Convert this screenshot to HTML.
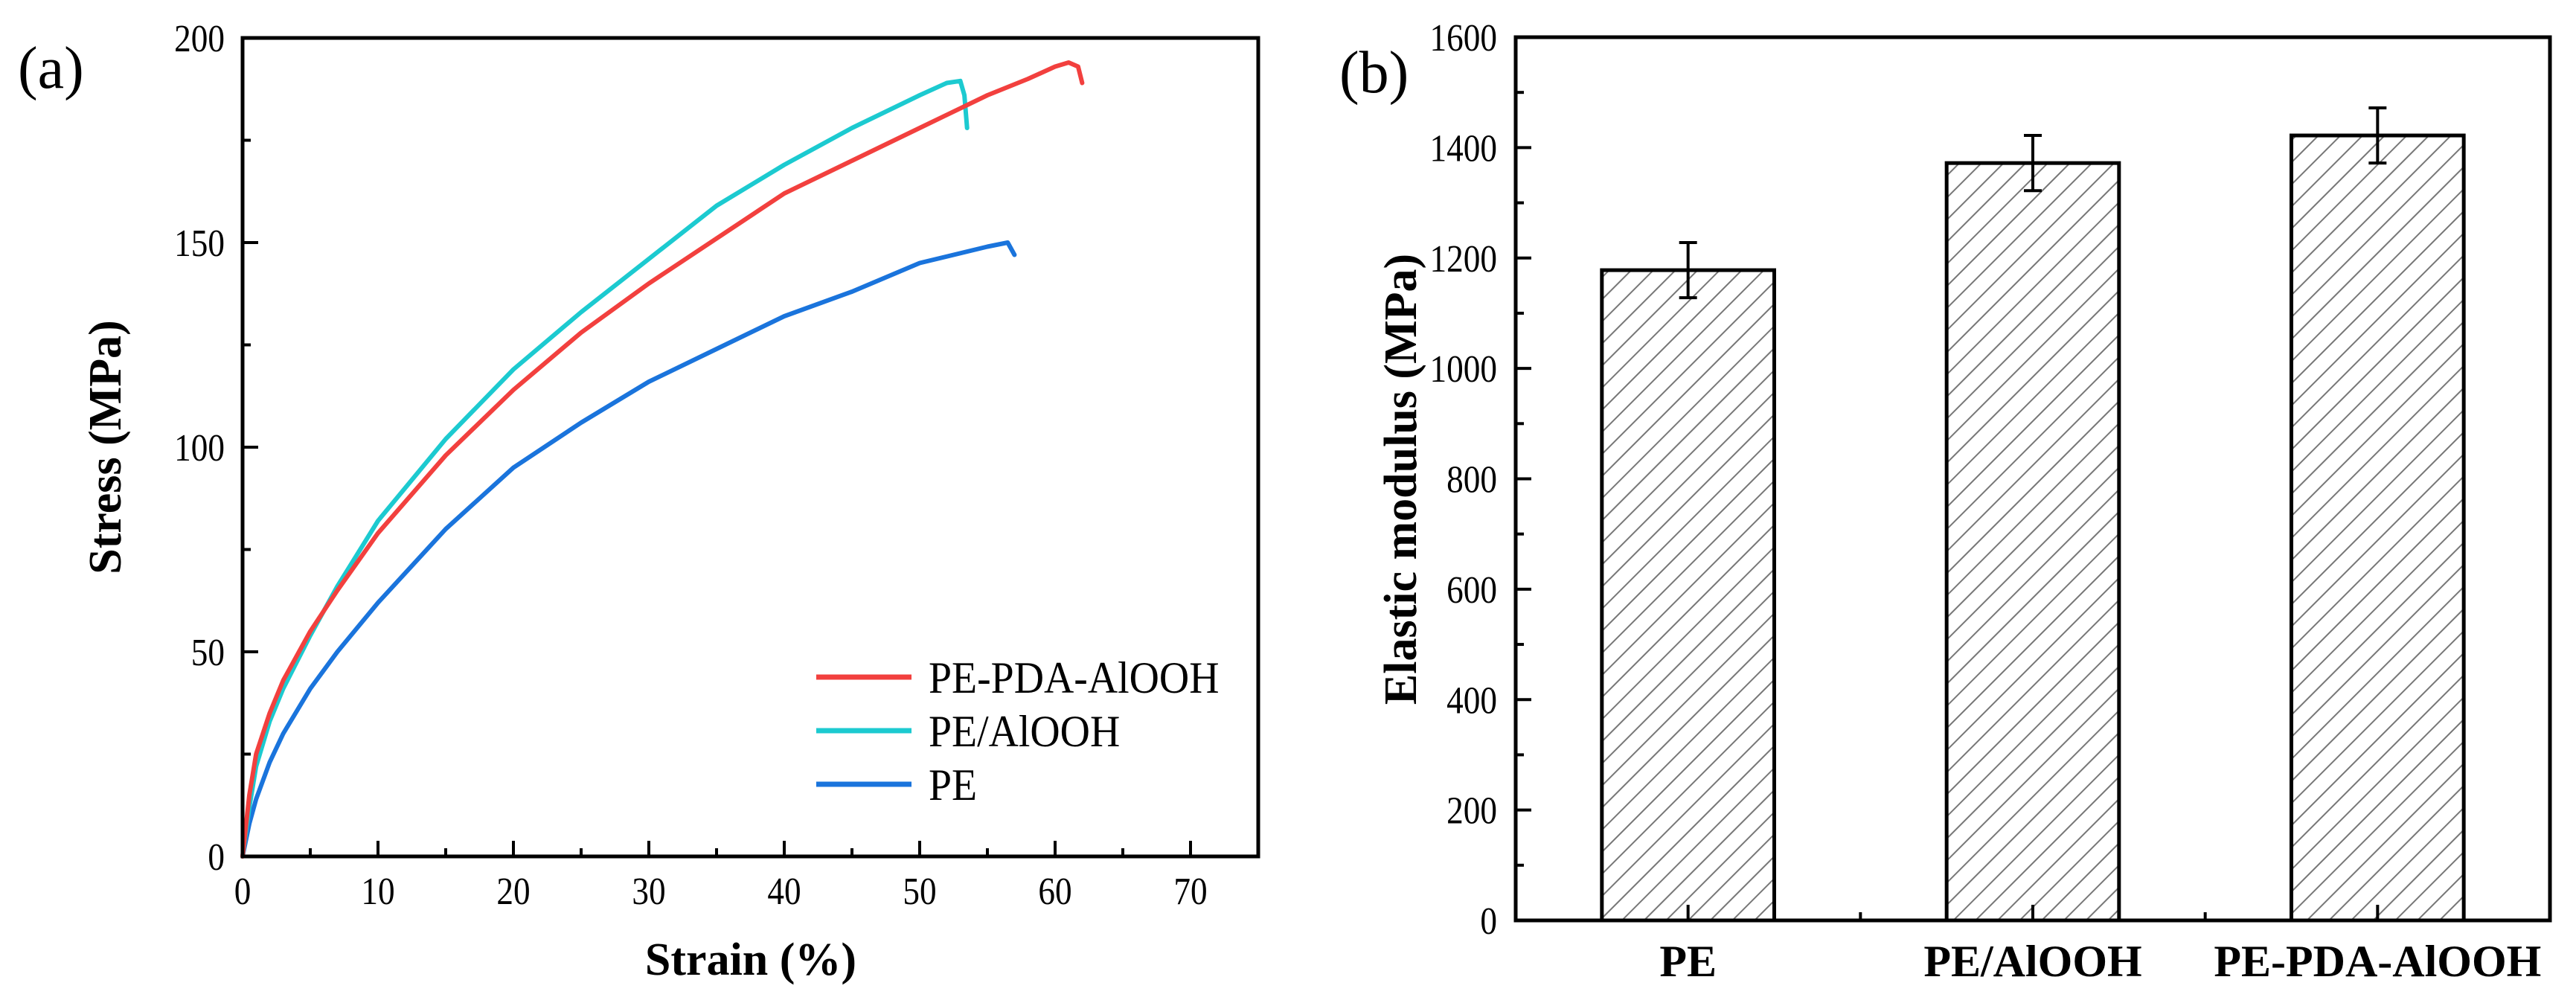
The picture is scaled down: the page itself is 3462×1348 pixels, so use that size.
<!DOCTYPE html>
<html><head><meta charset="utf-8">
<style>
html,body{margin:0;padding:0;background:#fff;}
svg{display:block;}
text{font-family:"Liberation Serif","DejaVu Serif",serif;fill:#000;}
</style></head>
<body>
<svg id="fig" width="3462" height="1348" viewBox="0 0 3462 1348" xmlns="http://www.w3.org/2000/svg">
<defs>
<pattern id="hatch" patternUnits="userSpaceOnUse" width="21" height="21" patternTransform="rotate(45)">
<rect width="21" height="21" fill="#fff"/>
<line x1="0" y1="0" x2="0" y2="21" stroke="#777" stroke-width="4"/>
</pattern>
</defs>
</svg>
<script>
// ---- Panel (a) data ----
const redX=[0,0.5,1,2,3,5,7,10,15,20,25,30,35,40,45,50,55,58,60,61,61.7,62];
const redY=[0,15,25,35,43,55,65,79,98,114,128,140,151,162,170,178,186,190,193,194,193,189];
const cyanX=[0,0.5,1,2,3,5,7,10,15,20,25,30,35,40,45,50,52,53,53.3,53.5];
const cyanY=[0,12,22,33,41,54,66,82,102,119,133,146,159,169,178,186,189,189.5,186,178];
const blueX=[0,0.5,1,2,3,5,7,10,15,20,25,30,35,40,45,50,55,56.5,57];
const blueY=[0,8,14,23,30,41,50,62,80,95,106,116,124,132,138,145,149,150,147];
const aXTicks=[0,10,20,30,40,50,60,70];
const aYTicks=[0,50,100,150,200];
const legendLabels=["PE-PDA-AlOOH","PE/AlOOH","PE"];
// ---- Panel (b) data ----
const categories=["PE","PE/AlOOH","PE-PDA-AlOOH"];
const modulus=[1178,1372,1422];
const modErr=[50,50,50];
const bYTicks=[0,200,400,600,800,1000,1200,1400,1600];

const NS="http://www.w3.org/2000/svg";
const svg=document.getElementById('fig');
function el(tag,attrs,parent){const e=document.createElementNS(NS,tag);for(const k in attrs)e.setAttribute(k,attrs[k]);(parent||svg).appendChild(e);return e;}
function stext(x,y,str,size,sx,anchor,parent){
  const t=el('text',{x:0,y:0,'font-size':size,'text-anchor':anchor,transform:'translate('+x+','+y+') scale('+sx+',1)'},parent);
  t.textContent=str;return t;
}

// Panel a axes
const aL=326,aR=1691,aT=51,aB=1151;
const ax=v=>aL+(v/75)*(aR-aL);
const ay=v=>aB-(v/200)*(aB-aT);
const gA=el('g',{});


function series(xs,ys,color,name){
  let d='';xs.forEach((x,i)=>{d+=(i?'L':'M')+ax(x).toFixed(1)+' '+ay(ys[i]).toFixed(1);});
  const p=el('path',{d:d,fill:'none',stroke:color,'stroke-width':6,'stroke-linejoin':'round','stroke-linecap':'round'},gA);
  
  
}
series(blueX,blueY,'#1a74dc','pe-curve');
series(cyanX,cyanY,'#1ccad0','pe-alooh-curve');
series(redX,redY,'#f2403e','pe-pda-alooh-curve');
el('rect',{x:aL,y:aT,width:aR-aL,height:aB-aT,fill:'none',stroke:'#000','stroke-width':5},gA);
for(let v=0;v<=75;v+=5){const maj=v%10===0;el('line',{x1:ax(v),x2:ax(v),y1:aB,y2:aB-(maj?21:11),stroke:'#000','stroke-width':4},gA);}
for(let v=0;v<=200;v+=25){const maj=v%50===0;el('line',{x1:aL,x2:aL+(maj?21:11),y1:ay(v),y2:ay(v),stroke:'#000','stroke-width':4},gA);}
aXTicks.forEach(v=>{const t=stext(ax(v),aB+64,String(v),52,0.87,'middle',gA);

});
aYTicks.forEach(v=>{const t=stext(302,ay(v)+18,String(v),52,0.87,'end',gA);

});
let t=el('text',{x:1009,y:1310,'font-size':62,'font-weight':'bold','text-anchor':'middle'},gA);t.textContent='Strain (%)';


t=el('text',{x:0,y:0,'font-size':62,'font-weight':'bold','text-anchor':'middle',transform:'translate(162,601) rotate(-90)'},gA);t.textContent='Stress (MPa)';


t=el('text',{x:24,y:118,'font-size':80},gA);t.textContent='(a)';


const legColors=['#f2403e','#1ccad0','#1a74dc'];
legendLabels.forEach((lab,i)=>{const y=910+i*72;
 const g=el('g',{},gA);
 
 
 el('line',{x1:1097,x2:1225,y1:y,y2:y,stroke:legColors[i],'stroke-width':7},g);
 stext(1248,y+21,lab,60,0.93,'start',g);});

// Panel b
const bL=2037,bR=3427,bT=50,bB=1237;
const bx=c=>bL+(c-0.5)/3*(bR-bL);
const by=v=>bB-(v/1600)*(bB-bT);
const gB=el('g',{});


categories.forEach((c,i)=>{const cx=bx(i+1),w=(bR-bL)/6;
 const r=el('rect',{x:cx-w/2,y:by(modulus[i]),width:w,height:bB-by(modulus[i]),fill:'url(#hatch)',stroke:'#000','stroke-width':5},gB);
 
 
 const eb=el('g',{stroke:'#000','stroke-width':4},gB);
 
 
 const hi=by(modulus[i]+modErr[i]),lo=by(modulus[i]-modErr[i]);
 el('line',{x1:cx,x2:cx,y1:hi,y2:lo},eb);
 el('line',{x1:cx-12,x2:cx+12,y1:hi,y2:hi},eb);
 el('line',{x1:cx-12,x2:cx+12,y1:lo,y2:lo},eb);
 const tl=el('text',{x:cx,y:1312,'font-size':60,'font-weight':'bold','text-anchor':'middle'},gB);tl.textContent=c;
 
 
});
el('rect',{x:bL,y:bT,width:bR-bL,height:bB-bT,fill:'none',stroke:'#000','stroke-width':5},gB);
for(let c=1;c<=3;c+=0.5){const maj=Number.isInteger(c);el('line',{x1:bx(c),x2:bx(c),y1:bB,y2:bB-(maj?21:11),stroke:'#000','stroke-width':4},gB);}
for(let v=0;v<=1600;v+=100){const maj=v%200===0;el('line',{x1:bL,x2:bL+(maj?21:11),y1:by(v),y2:by(v),stroke:'#000','stroke-width':4},gB);}
bYTicks.forEach(v=>{const tt=stext(2012,by(v)+18,String(v),52,0.87,'end',gB);
 
 });
t=el('text',{x:0,y:0,'font-size':62,'font-weight':'bold','text-anchor':'middle',transform:'translate(1903,644) rotate(-90)'},gB);t.textContent='Elastic modulus (MPa)';


t=el('text',{x:1800,y:124,'font-size':80},gB);t.textContent='(b)';


</script>
</body></html>
